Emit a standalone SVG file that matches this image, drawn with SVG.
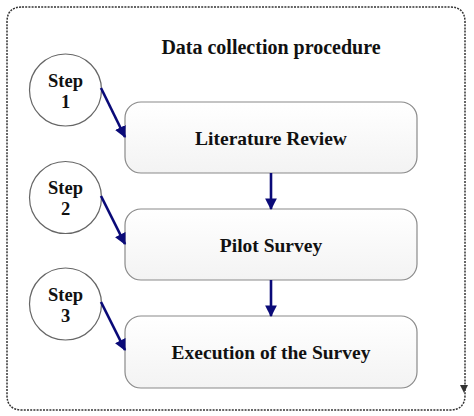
<svg xmlns="http://www.w3.org/2000/svg" width="474" height="416" viewBox="0 0 474 416">
<style>
.t{font-family:"Liberation Serif","DejaVu Serif",serif;font-weight:bold;fill:#111;text-anchor:middle}
.box{fill:url(#g);stroke:#8a8a8a;stroke-width:1.2}
.circ{fill:#fff;stroke:#666;stroke-width:1.2}
.arr{stroke:#0a0a78;stroke-width:2.6;fill:none;marker-end:url(#ah)}
</style>
<defs>
<linearGradient id="g" x1="0" y1="0" x2="0" y2="1">
<stop offset="0" stop-color="#ffffff"/>
<stop offset="1" stop-color="#f3f3f3"/>
</linearGradient>
<marker id="ah" viewBox="0 0 10 10" refX="9" refY="5" markerWidth="4.5" markerHeight="4.5" orient="auto" markerUnits="strokeWidth">
<path d="M0,0 L10,5 L0,10 z" fill="#0a0a78"/>
</marker>
</defs>
<rect width="474" height="416" fill="#fff"/>
<g id="frame">
<path d="M22,7 H450 Q465,7 465,22 V395 Q465,410 450,410 H22 Q7,410 7,395 V22 Q7,7 22,7 Z" fill="none" stroke="#333" stroke-width="1.5" stroke-dasharray="2,1.2"/>
<path d="M460,385 L468,385 L464,393 Z" fill="#333"/>
</g>
<text id="title" class="t" x="271" y="54" font-size="20">Data collection procedure</text>
<g id="step1"><circle class="circ" cx="65.5" cy="90" r="36"/><text class="t" x="65.5" y="87" font-size="18.5">Step</text><text class="t" x="65.5" y="108" font-size="18.5">1</text></g>
<g id="step2"><circle class="circ" cx="65.5" cy="197.5" r="36"/><text class="t" x="65.5" y="194" font-size="18.5">Step</text><text class="t" x="65.5" y="215" font-size="18.5">2</text></g>
<g id="step3"><circle class="circ" cx="65.5" cy="304" r="36"/><text class="t" x="65.5" y="301" font-size="18.5">Step</text><text class="t" x="65.5" y="322" font-size="18.5">3</text></g>
<g id="lit"><rect class="box" x="125" y="102" width="292" height="71" rx="16"/><text class="t" x="271" y="145" font-size="19.5">Literature Review</text></g>
<g id="pilot"><rect class="box" x="125" y="209" width="292" height="71" rx="16"/><text class="t" x="271" y="252" font-size="19.5">Pilot Survey</text></g>
<g id="exec"><rect class="box" x="125" y="316" width="292" height="72" rx="16"/><text class="t" x="271" y="359" font-size="19.5">Execution of the Survey</text></g>
<g id="connectors">
<line class="arr" x1="101" y1="88" x2="125" y2="137"/>
<line class="arr" x1="101" y1="196" x2="125" y2="244"/>
<line class="arr" x1="101" y1="302" x2="125" y2="350"/>
<line class="arr" x1="271" y1="173" x2="271" y2="209"/>
<line class="arr" x1="271" y1="280" x2="271" y2="316"/>
</g>
</svg>
